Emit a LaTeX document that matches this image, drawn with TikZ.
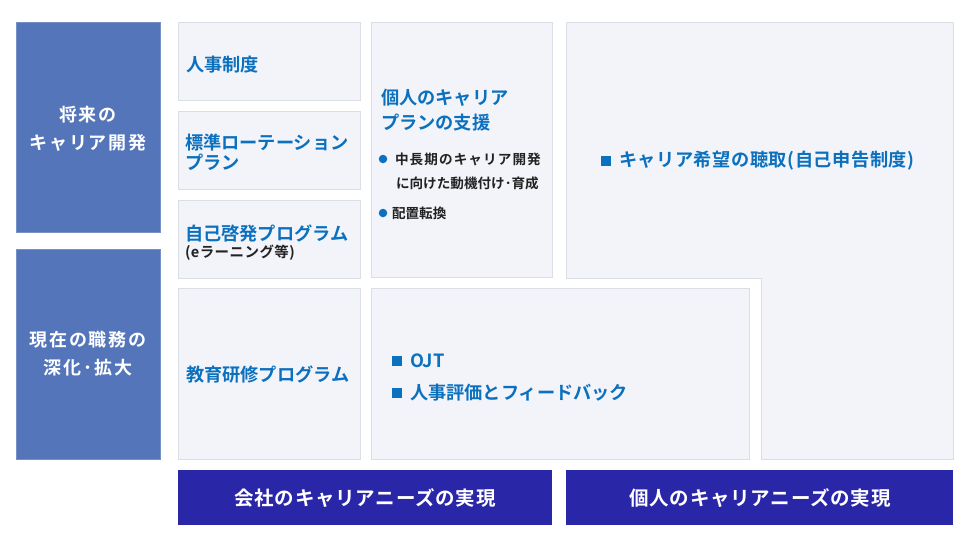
\documentclass[tikz,border=0pt]{standalone}
\usepackage{fontspec}
\setmainfont{Noto Sans CJK JP Bold}
\newfontfamily\jpsp{Noto Sans CJK JP Bold}[LetterSpace=10]
\newfontfamily\jpnote{Noto Sans CJK JP Bold}[LetterSpace=8]
\newfontfamily\jpsl{Noto Sans CJK JP Bold}[LetterSpace=4]
\newfontfamily\jpxs{Noto Sans CJK JP Bold}[LetterSpace=3]

\definecolor{pillarblue}{RGB}{84,117,186}
\definecolor{goalblue}{RGB}{42,38,168}
\definecolor{panelfill}{RGB}{243,244,249}
\definecolor{panelline}{RGB}{220,222,229}
\definecolor{labelblue}{RGB}{11,112,190}
\definecolor{bodyblack}{RGB}{34,34,34}

\begin{document}
\begin{tikzpicture}[x=1pt,y=-1pt]
        \tikzstyle{every node}=[inner sep=0pt, outer sep=0pt]
        \tikzstyle{panel}=[draw=panelline, fill=panelfill, line width=1pt, anchor=north west]
        \tikzstyle{pillar}=[draw=pillarblue!80!white, fill=pillarblue, line width=0.8pt, anchor=north west]
        \tikzstyle{goal}=[fill=goalblue, anchor=north west]
        \tikzstyle{pillartext}=[text=white, align=center, font=\jpsp\fontsize{18}{28}\selectfont]
        \tikzstyle{goaltext}=[text=white, font=\jpsl\fontsize{19.5}{22}\selectfont]
        \tikzstyle{heading}=[anchor=west, text=labelblue, font=\fontsize{18.2}{21}\selectfont]
        \tikzstyle{note}=[anchor=west, text=bodyblack, font=\fontsize{13.6}{16}\selectfont]
        \tikzstyle{small}=[anchor=west, text=bodyblack, font=\jpxs\fontsize{14.5}{17}\selectfont]
        \tikzstyle{bulletdot}=[circle, fill=labelblue, minimum size=8.5pt]
        \tikzstyle{sqmark}=[rectangle, fill=labelblue, minimum size=9.5pt]

        \fill[white] (0,0) rectangle (970,541);
        \useasboundingbox (0,0) rectangle (970,541);

        % left pillars
        \node[pillar, minimum width=144, minimum height=210] (future) at (16,22) {};
        \node[pillar, minimum width=144, minimum height=210] (present) at (16,249) {};
        \node[pillartext] (futureA) at (88,115) {将来の};
        \node[pillartext] (futureB) at (88,143) {キャリア開発};
        \node[pillartext] (presentA) at (88,340) {現在の職務の};
        \node[pillartext] (presentB) at (88,368) {深化･拡大};

        % company programmes
        \node[panel, minimum width=182, minimum height=78] (system) at (178,22) {};
        \node[panel, minimum width=182, minimum height=78] (rotation) at (178,111) {};
        \node[panel, minimum width=182, minimum height=78] (selfdev) at (178,200) {};
        \node[panel, minimum width=182, minimum height=171] (training) at (178,288) {};
        \node[heading] (systemT) at (186,65) {人事制度};
        \node[heading] (rotationA) at (185,143) {標準ローテーション};
        \node[heading] (rotationB) at (185,162) {プラン};
        \node[heading] (selfdevA) at (185,233) {自己啓発プログラム};
        \node[small] (selfdevB) at (185,253) {(eラーニング等)};
        \node[heading] (trainingT) at (186,375) {教育研修プログラム};

        % career plan support
        \node[panel, minimum width=181, minimum height=255] (support) at (371,22) {};
        \node[heading] (supportA) at (381,98) {個人のキャリア};
        \node[heading] (supportB) at (381,123) {プランの支援};
        \node[bulletdot] (dotA) at (383,159) {};
        \node[note, font=\jpnote\fontsize{13.6}{16}\selectfont] (motivA) at (395,159) {中長期のキャリア開発};
        \node[note] (motivB) at (396,183) {に向けた動機付け･育成};
        \node[bulletdot] (dotB) at (383,213) {};
        \node[note] (transfer) at (392,213) {配置転換};

        % self report
        \filldraw[draw=panelline, fill=panelfill, line width=1pt]
            (566,22) -- (953,22) -- (953,459) -- (761,459) -- (761,278) -- (566,278) -- cycle;
        \node[sqmark] (sqHope) at (606,161) {};
        \node[heading, font=\jpxs\fontsize{18.2}{21}\selectfont] (hope) at (619,161) {キャリア希望の聴取(自己申告制度)};

        % on the job
        \node[panel, minimum width=378, minimum height=171] (ojt) at (371,288) {};
        \node[sqmark] (sqOjt) at (397,361) {};
        \node[heading] (ojtT) at (410,361) {OJT};
        \node[sqmark] (sqEval) at (397,393) {};
        \node[heading] (evalT) at (410,393) {人事評価とフィードバック};

        % needs
        \node[goal, minimum width=374, minimum height=55] (company) at (178,470) {};
        \node[goal, minimum width=387, minimum height=55] (personal) at (566,470) {};
        \node[goaltext] (companyT) at (365,498) {会社のキャリアニーズの実現};
        \node[goaltext] (personalT) at (760,498) {個人のキャリアニーズの実現};

    \end{tikzpicture}
\end{document}
